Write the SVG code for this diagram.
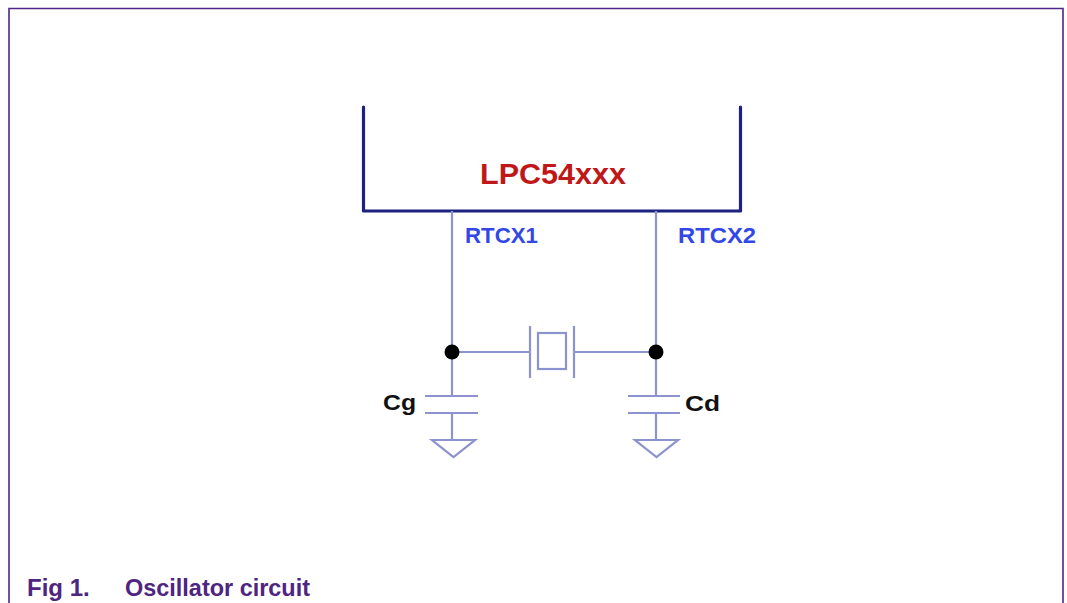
<svg xmlns="http://www.w3.org/2000/svg" width="1067" height="603" viewBox="0 0 1067 603">
<style>
.wire{stroke:#8c93cf;stroke-width:2.2;fill:none}
.chip{stroke:#1c237e;stroke-width:3.2;fill:none;stroke-linecap:round;stroke-linejoin:round}
.pin{font-family:"Liberation Sans",Arial,sans-serif;font-weight:bold;font-size:22px;fill:#3347e6}
.cap{font-family:"Liberation Sans",Arial,sans-serif;font-weight:bold;font-size:22px;fill:#111}
.dot{fill:#000}
</style>
<rect x="0" y="0" width="1067" height="603" fill="#fff"/>
<path d="M9 620 V8.5 H1063 V620" fill="none" stroke="#52238a" stroke-width="1.6"/>
<g id="chip">
<path class="chip" d="M363.5 107 V211 H740.5 V107"/>
<text x="480" y="184" textLength="146" lengthAdjust="spacingAndGlyphs" font-family="'Liberation Sans',Arial,sans-serif" font-weight="bold" font-size="29" fill="#c01818">LPC54xxx</text>
</g>
<g id="rtcx1"><text class="pin" x="465" y="243" textLength="73" lengthAdjust="spacingAndGlyphs">RTCX1</text></g>
<g id="rtcx2"><text class="pin" x="678" y="243" textLength="78" lengthAdjust="spacingAndGlyphs">RTCX2</text></g>
<g id="crystal">
<line class="wire" x1="530" y1="326" x2="530" y2="378"/>
<rect class="wire" x="538" y="333" width="28" height="36"/>
<line class="wire" x1="574" y1="326" x2="574" y2="378"/>
</g>
<g id="cg">
<line class="wire" x1="425" y1="396" x2="478" y2="396"/>
<line class="wire" x1="425" y1="413" x2="478" y2="413"/>
<text class="cap" x="383" y="410" textLength="33" lengthAdjust="spacingAndGlyphs">Cg</text>
</g>
<g id="cd">
<line class="wire" x1="628" y1="396" x2="680" y2="396"/>
<line class="wire" x1="628" y1="413" x2="680" y2="413"/>
<text class="cap" x="685" y="411" textLength="35" lengthAdjust="spacingAndGlyphs">Cd</text>
</g>
<g id="gnd1"><path class="wire" d="M432 440 H475 L453.5 457 Z"/></g>
<g id="gnd2"><path class="wire" d="M635 440 H678 L656.5 457 Z"/></g>
<g id="connectors">
<path class="wire" d="M452 211 V396 M452 413 V440"/>
<path class="wire" d="M656 211 V396 M656 413 V440"/>
<path class="wire" d="M452 352 H530 M574 352 H656"/>
<circle class="dot" cx="452" cy="352" r="7.5"/>
<circle class="dot" cx="656" cy="352" r="7.5"/>
</g>
<g id="caption">
<text x="27" y="596" font-family="'Liberation Sans',Arial,sans-serif" font-weight="bold" font-size="24" fill="#4e2580">Fig 1.</text>
<text x="125" y="596" textLength="185" lengthAdjust="spacingAndGlyphs" font-family="'Liberation Sans',Arial,sans-serif" font-weight="bold" font-size="24" fill="#4e2580">Oscillator circuit</text>
</g>
</svg>
